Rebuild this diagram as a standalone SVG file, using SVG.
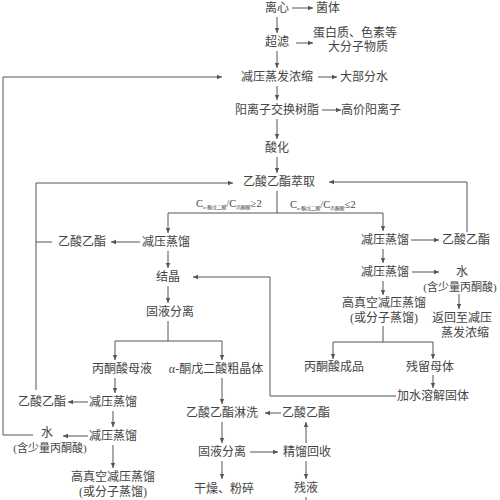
<svg xmlns="http://www.w3.org/2000/svg" width="500" height="500" viewBox="0 0 500 500">
<style>
text{font-family:"Liberation Serif","Noto Sans CJK SC",serif;font-size:12px;fill:#444;text-anchor:middle;dominant-baseline:central}
.s{font-size:11px}
.lab{font-size:10.5px;text-anchor:start;dominant-baseline:auto}
.sub{font-size:4.8px}
#connectors line,#connectors polyline{stroke:#555;stroke-width:1;fill:none}
.a{marker-end:url(#ah)}
</style>
<defs>
<marker id="ah" markerWidth="6" markerHeight="6" refX="5" refY="3" orient="auto" markerUnits="userSpaceOnUse">
<path d="M0,0.8 L5,3 L0,5.2 Z" fill="#555"/>
</marker>
</defs>
<rect width="500" height="500" fill="#fff"/>
<g id="connectors">
<line class="a" x1="292" y1="8" x2="313" y2="8"/>
<line class="a" x1="277" y1="17" x2="277" y2="33"/>
<line class="a" x1="296" y1="43" x2="313" y2="43"/>
<line class="a" x1="277" y1="51" x2="277" y2="68"/>
<line class="a" x1="318" y1="77" x2="337" y2="77"/>
<line class="a" x1="277" y1="86" x2="277" y2="100"/>
<line class="a" x1="322" y1="110" x2="341" y2="110"/>
<line class="a" x1="277" y1="119" x2="277" y2="139"/>
<line class="a" x1="277" y1="157" x2="277" y2="173"/>
<polyline class="a" points="36,390 36,183 233,183"/>
<line x1="36" y1="242" x2="52" y2="242"/>
<polyline class="a" points="467,232 467,182 329,182"/>
<line x1="277" y1="191" x2="277" y2="213"/>
<line x1="168" y1="213" x2="383" y2="213"/>
<line class="a" x1="168" y1="213" x2="168" y2="233"/>
<line class="a" x1="383" y1="213" x2="383" y2="231"/>
<line class="a" x1="140" y1="242" x2="111" y2="242"/>
<line class="a" x1="168" y1="251" x2="168" y2="268"/>
<polyline class="a" points="396,396 270,396 270,277 193,277"/>
<line class="a" x1="168" y1="286" x2="168" y2="303"/>
<line x1="168" y1="321" x2="168" y2="341"/>
<line x1="115" y1="341" x2="222" y2="341"/>
<line class="a" x1="115" y1="341" x2="115" y2="360"/>
<line class="a" x1="222" y1="341" x2="222" y2="360"/>
<line class="a" x1="115" y1="378" x2="115" y2="393"/>
<line class="a" x1="88" y1="402" x2="68" y2="402"/>
<line class="a" x1="113" y1="411" x2="113" y2="427"/>
<line class="a" x1="88" y1="436" x2="63" y2="436"/>
<polyline class="a" points="33,435 3,435 3,77 222,77"/>
<line class="a" x1="113" y1="445" x2="113" y2="468"/>
<line class="a" x1="222" y1="378" x2="222" y2="404"/>
<line class="a" x1="281" y1="413" x2="265" y2="413"/>
<line class="a" x1="222" y1="422" x2="222" y2="443"/>
<line class="a" x1="250" y1="452" x2="278" y2="452"/>
<line class="a" x1="306" y1="443" x2="306" y2="422"/>
<line class="a" x1="306" y1="461" x2="306" y2="479"/>
<line class="a" x1="222" y1="461" x2="222" y2="479"/>
<line x1="306" y1="497" x2="306" y2="500"/>
<line class="a" x1="411" y1="240" x2="439" y2="240"/>
<line class="a" x1="383" y1="249" x2="383" y2="263"/>
<line class="a" x1="412" y1="272" x2="439" y2="272"/>
<line class="a" x1="459" y1="294" x2="459" y2="309"/>
<line class="a" x1="383" y1="281" x2="383" y2="295"/>
<line x1="383" y1="326" x2="383" y2="342"/>
<line x1="333" y1="342" x2="433" y2="342"/>
<line class="a" x1="333" y1="342" x2="333" y2="359"/>
<line class="a" x1="433" y1="342" x2="433" y2="359"/>
<line class="a" x1="433" y1="375" x2="433" y2="388"/>
</g>
<g id="lab1"><text class="lab" x="196" y="207">C<tspan class="sub" dy="1.5">α-酮戊二酸</tspan><tspan dy="-1.5">/C</tspan><tspan class="sub" dy="1.5">丙酮酸</tspan><tspan dy="-1.5">≥2</tspan></text></g>
<g id="lab2"><text class="lab" x="290" y="208">C<tspan class="sub" dy="1.5">α-酮戊二酸</tspan><tspan dy="-1.5">/C</tspan><tspan class="sub" dy="1.5">丙酮酸</tspan><tspan dy="-1.5">≤2</tspan></text></g>
<g id="n1"><text x="277" y="8">离心</text></g>
<g id="n2"><text x="328" y="8">菌体</text></g>
<g id="n3"><text x="277" y="42">超滤</text></g>
<g id="n4"><text x="355" y="33">蛋白质、色素等</text><text x="358" y="47">大分子物质</text></g>
<g id="n5"><text x="277" y="77">减压蒸发浓缩</text></g>
<g id="n6"><text x="364" y="77">大部分水</text></g>
<g id="n7"><text x="277" y="110">阳离子交换树脂</text></g>
<g id="n8"><text x="371" y="110">高价阳离子</text></g>
<g id="n9"><text x="277" y="148">酸化</text></g>
<g id="n10"><text x="279" y="182">乙酸乙酯萃取</text></g>
<g id="n11"><text x="166" y="242">减压蒸馏</text></g>
<g id="n12"><text x="82" y="242">乙酸乙酯</text></g>
<g id="n13"><text x="168" y="277">结晶</text></g>
<g id="n14"><text x="170" y="312">固液分离</text></g>
<g id="n15"><text x="122" y="369">丙酮酸母液</text></g>
<g id="n16"><text x="216" y="369">α-酮戊二酸粗晶体</text></g>
<g id="n17"><text x="113" y="402">减压蒸馏</text></g>
<g id="n18"><text x="42" y="402">乙酸乙酯</text></g>
<g id="n19"><text x="113" y="436">减压蒸馏</text></g>
<g id="n20"><text x="47" y="433">水</text><text class="s" x="50" y="448">(含少量丙酮酸)</text></g>
<g id="n21"><text x="113" y="477">高真空减压蒸馏</text><text x="113" y="492">(或分子蒸馏)</text></g>
<g id="n22"><text x="222" y="413">乙酸乙酯淋洗</text></g>
<g id="n23"><text x="306" y="413">乙酸乙酯</text></g>
<g id="n24"><text x="222" y="452">固液分离</text></g>
<g id="n25"><text x="307" y="452">精馏回收</text></g>
<g id="n26"><text x="224" y="489">干燥、粉碎</text></g>
<g id="n27"><text x="306" y="488">残液</text></g>
<g id="n28"><text x="385" y="240">减压蒸馏</text></g>
<g id="n29"><text x="466" y="240">乙酸乙酯</text></g>
<g id="n30"><text x="385" y="272">减压蒸馏</text></g>
<g id="n31"><text x="462" y="272">水</text><text class="s" x="460" y="287">(含少量丙酮酸)</text></g>
<g id="n32"><text x="462" y="318">返回至减压</text><text x="465" y="333">蒸发浓缩</text></g>
<g id="n33"><text x="384" y="303">高真空减压蒸馏</text><text x="384" y="318">(或分子蒸馏)</text></g>
<g id="n34"><text x="334" y="367">丙酮酸成品</text></g>
<g id="n35"><text x="430" y="367">残留母体</text></g>
<g id="n36"><text x="433" y="396">加水溶解固体</text></g>
</svg>
